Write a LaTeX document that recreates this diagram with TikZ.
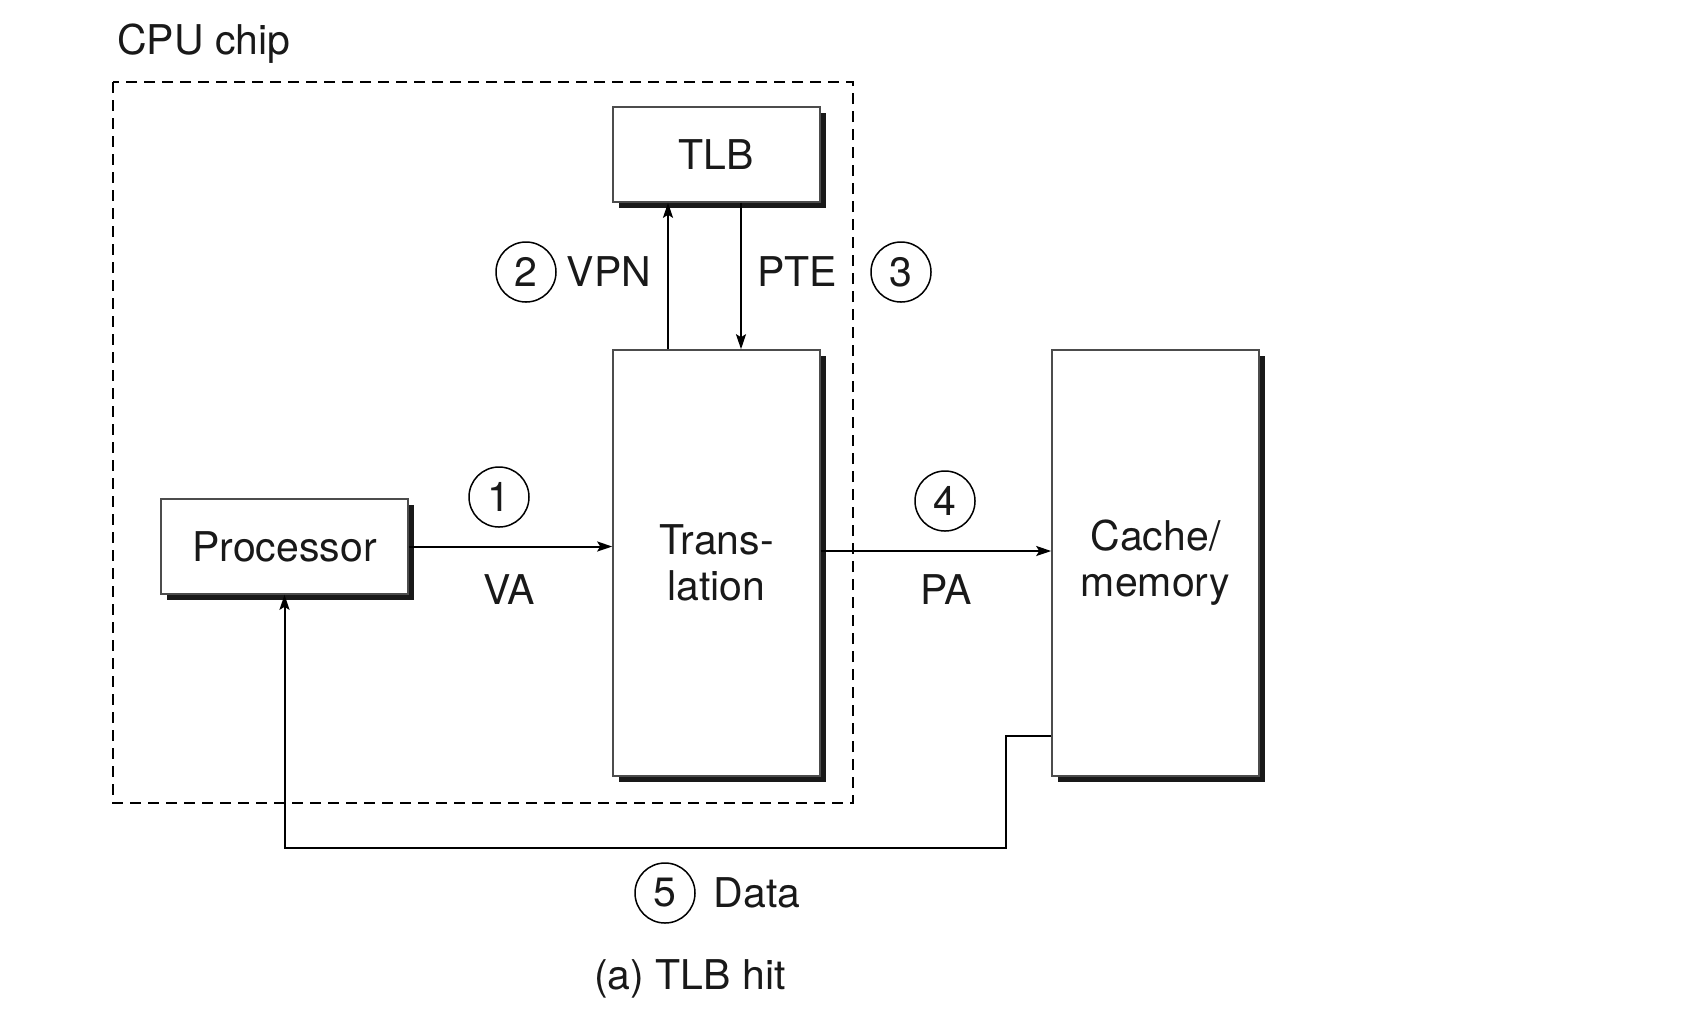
\documentclass[tikz,border=0pt]{standalone}
\usepackage{fontspec}
\setmainfont{TeX Gyre Heros}
\usetikzlibrary{arrows.meta, positioning, shadows}

\begin{document}
\begin{tikzpicture}[
    x=0.5pt, y=-0.5pt,
    every node/.style={font=\fontsize{20.5}{23}\selectfont, text=black!90},
    unit/.style={draw=black!70, line width=0.8pt, fill=white, align=center, inner sep=0pt,
        drop shadow={shadow xshift=3pt, shadow yshift=-3pt, fill=black!90, opacity=1}},
    stepnum/.style={draw, circle, line width=0.75pt, minimum size=30pt, inner sep=0pt},
    arr/.style={-{Stealth[length=7.5pt, width=5pt, inset=1.5pt]}, line width=1pt},
    chip/.style={draw, dash pattern=on 5.5pt off 3.5pt, line width=1.1pt}
]
\useasboundingbox (0,0) rectangle (1690,1014);

% CPU chip boundary
\draw[chip] (113,82) rectangle (853,803);
\node[anchor=west] (cpu) at (110,44) {CPU chip};

% units
\node[unit, minimum width=103.5pt, minimum height=47.5pt] (tlb) at (716.5,154.5) {TLB};
\node[unit, minimum width=103.5pt, minimum height=213pt] (trans) at (716.5,563) {Trans-\\lation};
\node[unit, minimum width=123.5pt, minimum height=47.5pt] (proc) at (284.5,546.5) {Processor};
\node[unit, minimum width=103.5pt, minimum height=213pt] (cache) at (1155.5,563) {Cache/\\memory};

% connectors
\draw[arr] (proc.east) -- (proc.east -| trans.west);
\draw[arr] ([xshift=-24.25pt]trans.north) -- ([xshift=-24.25pt]tlb.south);
\draw[arr] ([xshift=12.25pt]tlb.south) -- ([xshift=12.25pt]trans.north);
\draw[arr] ([yshift=6pt]trans.east) -- ([yshift=6pt]trans.east -| cache.west);
\coordinate (dret) at (1006,848);
\draw[arr] ([yshift=-86.5pt]cache.west) -| (dret) -| (proc.south);

% step labels
\node[stepnum] (n1) at (499,497) {1};
\node (va) at (509,590) {VA};
\node[stepnum] (n2) at (526,272) {2};
\node (vpn) at (609,272) {VPN};
\node (pte) at (797,272) {PTE};
\node[stepnum] (n3) at (901,272) {3};
\node[stepnum] (n4) at (945,501) {4};
\node (pa) at (946,590) {PA};
\node[stepnum] (n5) at (665,893) {5};
\node (data) at (757,893) {Data};

\node (cap) at (690,979) {(a) TLB hit};
\end{tikzpicture}
\end{document}
